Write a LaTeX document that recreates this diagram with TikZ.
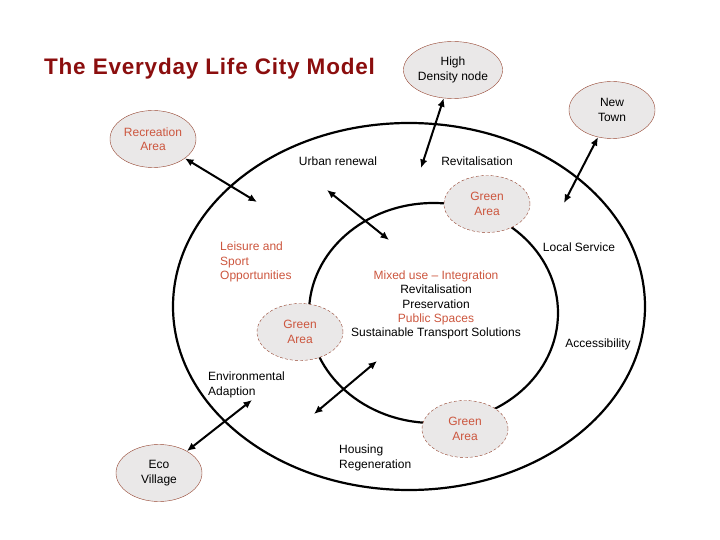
\documentclass[tikz,border=0pt]{standalone}
\usepackage{fontspec}
\setmainfont{Liberation Sans}
\newfontfamily\titlefont[LetterSpace=3.5]{Liberation Sans}
\usetikzlibrary{arrows.meta,shapes.geometric}
\definecolor{titlered}{RGB}{139,14,14}
\definecolor{labelred}{RGB}{204,86,62}
\definecolor{rimbrown}{RGB}{150,70,50}
\definecolor{nodegray}{RGB}{234,232,232}
\tikzset{
  place/.style={ellipse, draw=rimbrown, fill=nodegray, minimum width=86pt, minimum height=57pt, inner sep=0pt, align=center, font=\fontsize{12}{14.3}\selectfont},
  greenarea/.style={place, dash pattern=on 3pt off 2pt, text=labelred},
  lbl/.style={inner sep=0pt, align=center, font=\fontsize{12}{14.3}\selectfont},
  link/.style={line width=2pt, {Latex[length=8.5pt,width=7.5pt]}-{Latex[length=8.5pt,width=7.5pt]}},
  ring/.style={line width=2.2pt}
}
\begin{document}
\begin{tikzpicture}[x=1pt,y=-1pt]
\useasboundingbox (0,0) rectangle (720,540);
\draw[ring] (409,306.5) ellipse [x radius=236pt, y radius=183.5pt];
\draw[ring] (433.5,313) ellipse [x radius=124.5pt, y radius=110pt];
\node[anchor=base west, inner sep=0pt, text=titlered, font=\titlefont\fontsize{22.5}{24}\selectfont\bfseries] (title) at (44,75) {The Everyday Life City Model};
\node[place] (highd) at (453,70) {High\\Density node};
\node[place] (newtown) at (612,110) {New\\Town};
\node[place, text=labelred] (recr) at (153,139) {Recreation\\Area};
\node[place] (eco) at (159,473) {Eco\\Village};
\node[greenarea] (greenA) at (487,204) {Green\\Area};
\node[greenarea] (greenB) at (300,332) {Green\\Area};
\node[greenarea] (greenC) at (465,429) {Green\\Area};
\node[lbl] (urban) at (338,161) {Urban renewal};
\node[lbl] (revit) at (477,161) {Revitalisation};
\node[lbl, align=left, anchor=west, text=labelred] (leisure) at (220,262) {Leisure and\\Sport\\Opportunities};
\node[lbl] (local) at (579,247) {Local Service};
\node[lbl] (core) at (436,305) {\textcolor{labelred}{Mixed use – Integration}\\Revitalisation\\Preservation\\\textcolor{labelred}{Public Spaces}\\Sustainable Transport Solutions};
\node[lbl] (access) at (598,344) {Accessibility};
\node[lbl, align=left, anchor=west] (envir) at (208,385) {Environmental\\Adaption};
\node[lbl, align=left, anchor=west] (housing) at (339,458) {Housing\\Regeneration};
\coordinate (recrend) at (257,202);
\coordinate (urbanA) at (327,190);
\coordinate (urbanB) at (389,240);
\coordinate (highend) at (421,168);
\coordinate (townend) at (564,203);
\coordinate (ecoend) at (252,400);
\coordinate (midA) at (377,361);
\coordinate (midB) at (314,414);
\draw[link] (recr) -- (recrend);
\draw[link] (urbanA) -- (urbanB);
\draw[link] (highd) -- (highend);
\draw[link] (newtown) -- (townend);
\draw[link] (eco) -- (ecoend);
\draw[link] (midA) -- (midB);
\end{tikzpicture}
\end{document}
